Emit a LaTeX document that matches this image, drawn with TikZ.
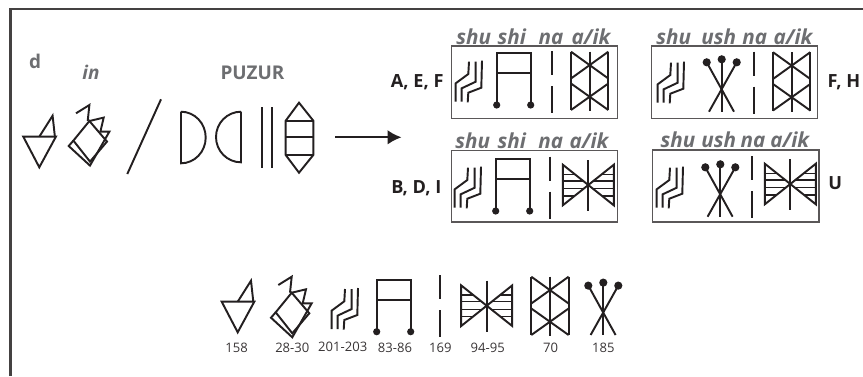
\documentclass[tikz,border=0pt]{standalone}
\usepackage{fontspec}
\setmainfont{Open Sans}
\usetikzlibrary{arrows.meta}
\definecolor{lab}{HTML}{6D6E71}
\definecolor{ink}{HTML}{231F20}
\tikzset{
  glyph/.style={draw=ink,line width=1.45pt,line join=miter,line cap=butt},
  dotfill/.style={fill=ink,draw=none},
  frameline/.style={draw=ink!85,line width=1.6pt},
  signbox/.style={draw=ink!75,line width=0.95pt},
  gloss/.style={anchor=base,inner sep=0pt,text=lab,font=\fontsize{15.5}{15.5}\selectfont\bfseries\itshape},
  grouplab/.style={anchor=base west,inner sep=0pt,text=ink,font=\fontsize{13.6}{13.6}\selectfont\bfseries},
  title/.style={anchor=base,inner sep=0pt,text=lab,font=\fontsize{14.2}{14.2}\selectfont\bfseries},
  numlab/.style={anchor=base,inner sep=0pt,text=ink!90,font=\fontsize{9.8}{10}\selectfont},
}
% base positions: sign as drawn in the first box that holds it
\newcommand{\SignShu}[2]{\begin{scope}[shift={(#1,#2)}]
  \draw[glyph] (469,61.7)--(468.3,74)--(455.7,83.3)--(455.7,101.7);
  \draw[glyph] (475.7,61.7)--(475.7,81.7)--(461.7,88.3)--(461.7,101.7);
  \draw[glyph] (482,60.7)--(481.3,87.7)--(468.3,92.7)--(467.7,102.3);
\end{scope}}
\newcommand{\SignShi}[2]{\begin{scope}[shift={(#1,#2)}]
  \draw[glyph] (496.7,105)--(496.7,53.3)--(530.7,53.3)--(530.7,105);
  \draw[glyph] (496.7,73.3)--(530.7,73.3);
  \fill[dotfill] (496.7,105) circle[radius=3.6];
  \fill[dotfill] (530.7,105) circle[radius=3.6];
\end{scope}}
\newcommand{\SignNa}[2]{\begin{scope}[shift={(#1,#2)}]
  \draw[glyph] (551.7,51)--(551.7,75);
  \draw[glyph] (551.7,86)--(551.7,113);
\end{scope}}
\newcommand{\SignAik}[2]{\begin{scope}[shift={(#1,#2)}]
  \draw[glyph] (571,51.7)--(571,110);
  \draw[glyph] (608.3,51.7)--(608.3,110);
  \draw[glyph] (589.7,51.7)--(589.7,111);
  \draw[glyph] (571,51.7)--(608.3,78.5);
  \draw[glyph] (608.3,51.7)--(571,78.5);
  \draw[glyph] (571,110)--(608.3,83.5);
  \draw[glyph] (608.3,110)--(571,83.5);
\end{scope}}
\newcommand{\SignBow}[2]{\begin{scope}[shift={(#1,#2)}]
  \draw[glyph] (-25.5,-20.3)--(25.5,20.3)--(25.5,-20.3)--(-25.5,20.3)--cycle;
  \draw[glyph] (0,-25)--(0,26);
  \foreach \dy/\dx in {-10.7/13.4,-4/5,3.6/4.5,11/13.8}{
    \draw[draw=ink,line width=1.15pt] (-25.5,\dy)--(-\dx,\dy);
    \draw[draw=ink,line width=1.15pt] (25.5,\dy)--(\dx,\dy);
  }
\end{scope}}
\newcommand{\SignUsh}[2]{\begin{scope}[shift={(#1,#2)}]
  \draw[glyph] (721.7,59.3)--(721.7,111.7);
  \draw[glyph] (706.7,62.3)--(734,111.7);
  \draw[glyph] (736.7,62.3)--(709,111.7);
  \fill[dotfill] (706.7,62.3) circle[radius=4.1];
  \fill[dotfill] (721.7,59.3) circle[radius=4.1];
  \fill[dotfill] (736.7,62.3) circle[radius=4.1];
\end{scope}}
\newcommand{\SignTri}[2]{\begin{scope}[shift={(#1,#2)}]
  \draw[glyph] (221.7,301.7)--(254.3,301.7)--(237.7,332.3)--cycle;
  \draw[glyph] (237.7,301.7)--(251,280.7)--(253.3,301.7);
\end{scope}}
\newcommand{\SignIn}[2]{\begin{scope}[shift={(#1,#2)}]
  \draw[glyph] (278.3,285)--(291.7,276.7)--(290,292.7);
  \draw[glyph] (275.7,312.3)--(291.7,292.7)--(309.3,313.3)--(292.3,333.3)--cycle;
  \draw[glyph] (291.7,292.7)--(306,289.3)--(302.7,303.3)--(311.7,303.3)--(292.3,337.3)--(271,317.7)--(275.7,312.3);
\end{scope}}
\begin{document}
\begin{tikzpicture}[x=0.75pt,y=-0.75pt]
\useasboundingbox (0,0) rectangle (863,376);
% frame
\draw[frameline] (10.5,376)--(10.5,9.3)--(863,9.3);
% left hand group
\node[title] (dlab) at (35,68) {d};
\node[title,font=\fontsize{14.2}{14.2}\selectfont\bfseries\itshape] (inlab) at (91,79.3) {in};
\node[title] (puzur) at (252.5,79.3) {PUZUR};
\SignTri{-198.4}{-165}
\SignIn{-202.3}{-171.7}
\draw[glyph] (161,99.3)--(127.3,174);
\draw[glyph] (181,111.7)--(181,163.3) arc[start angle=90,end angle=-90,x radius=24.7,y radius=25.8]--cycle;
\draw[glyph] (241,111.7)--(241,162.3) arc[start angle=90,end angle=270,x radius=25,y radius=25.3]--cycle;
\draw[glyph] (262,107.3)--(262,168.3);
\draw[glyph] (272.3,107.3)--(272.3,168.3);
\draw[glyph] (299,102.7)--(313.3,120.7)--(313.3,155)--(299,172.7)--(285.7,155)--(285.7,120.7)--cycle;
\draw[glyph] (285.7,120.7)--(313.3,120.7) (285.7,137.3)--(313.3,137.3) (285.7,155)--(313.3,155);
% arrow
\coordinate (arrowtail) at (335,137.3);
\coordinate (arrowhead) at (401.5,137.3);
\draw[draw=ink,line width=1.45pt,-{Latex[length=10.5pt,width=11pt]}] (arrowtail)--(arrowhead);
% boxes
\draw[signbox] (451.7,46) rectangle (617.7,118.7);
\draw[signbox] (451.7,150.7) rectangle (617.3,222);
\draw[signbox] (651.3,46) rectangle (817.3,118.7);
\draw[signbox] (652.3,150) rectangle (819,222);
% box A
\SignShu{0}{0}\SignShi{0}{0}\SignNa{0}{0}\SignAik{0}{0}
% box B
\SignShu{-1}{106}\SignShi{-1}{106}\SignNa{-1.4}{105.7}\SignBow{588.3}{185}
% box F
\SignShu{202}{1}\SignUsh{0}{0}\SignNa{202.3}{0.7}\SignAik{202}{0.5}
% box U
\SignShu{201}{106}\SignUsh{-1.4}{105}\SignNa{200.6}{105}\SignBow{790.3}{184}
% bottom row
\SignTri{0}{0}
\SignIn{0}{0}
\SignShu{-124}{227.3}
\SignShi{-120}{226.7}
\SignNa{-111.4}{224.3}
\SignBow{486.7}{305.7}
\SignAik{-39.7}{225}
\SignUsh{-118.4}{223.3}
% glosses
\node[gloss] (g1) at (473.7,44) {shu};
\node[gloss] (g2) at (511.7,44) {shi};
\node[gloss] (g3) at (551,44) {na};
\node[gloss] (g4) at (591,44) {a/ik};
\node[gloss] (g5) at (472.7,148.3) {shu};
\node[gloss] (g6) at (511.7,148.3) {shi};
\node[gloss] (g7) at (550.7,148.3) {na};
\node[gloss] (g8) at (589,148.3) {a/ik};
\node[gloss] (g9) at (673.7,44) {shu};
\node[gloss] (g10) at (718.7,44) {ush};
\node[gloss] (g11) at (754.7,44) {na};
\node[gloss] (g12) at (793,44) {a/ik};
\node[gloss] (g13) at (678,147.7) {shu};
\node[gloss] (g14) at (718.7,147.7) {ush};
\node[gloss] (g15) at (753,147.7) {na};
\node[gloss] (g16) at (789.7,147.7) {a/ik};
% group labels
\node[grouplab] (l1) at (390.7,87) {A, E, F};
\node[grouplab] (l2) at (391,193) {B, D, I};
\node[grouplab] (l3) at (827.3,87) {F, H};
\node[grouplab] (l4) at (828,189.3) {U};
% numbers
\node[numlab] (n1) at (236.7,352.7) {158};
\node[numlab] (n2) at (292.3,352.7) {28-30};
\node[numlab] (n3) at (342.7,351.7) {201-203};
\node[numlab] (n4) at (395,352.7) {83-86};
\node[numlab] (n5) at (440.3,352.7) {169};
\node[numlab] (n6) at (487.7,352.7) {94-95};
\node[numlab] (n7) at (550.7,352.7) {70};
\node[numlab] (n8) at (603.3,352.7) {185};
\end{tikzpicture}
\end{document}
